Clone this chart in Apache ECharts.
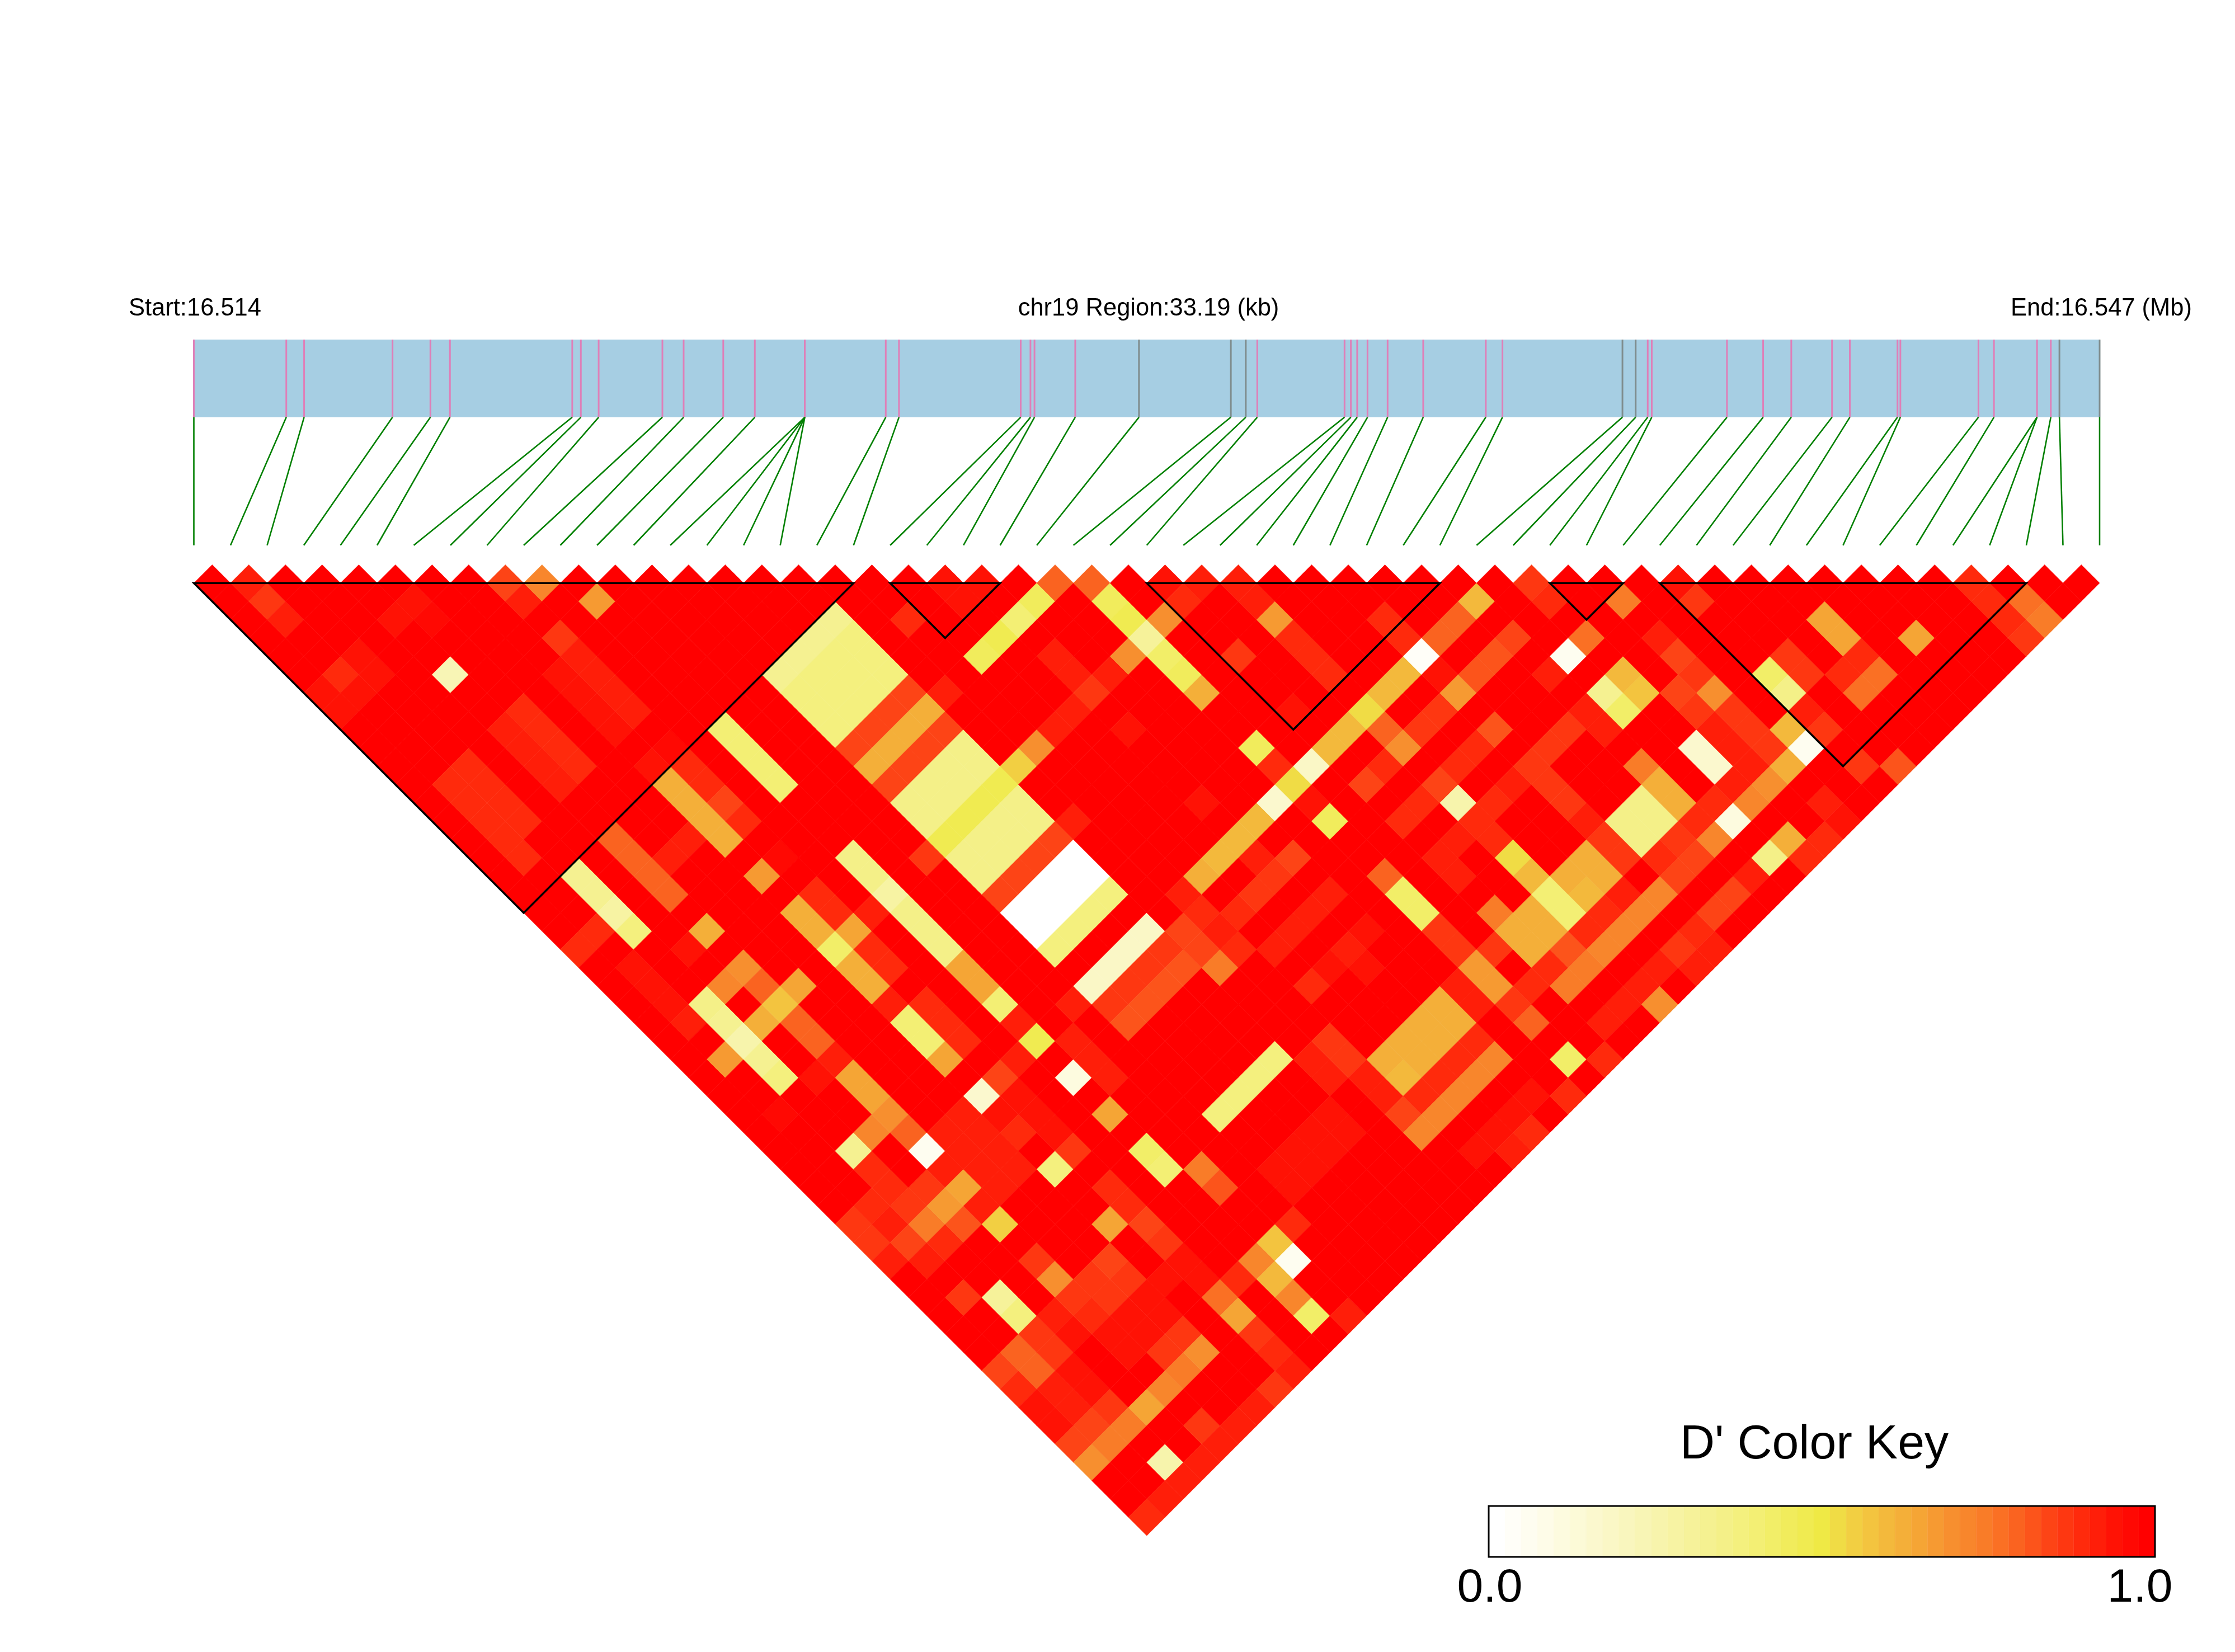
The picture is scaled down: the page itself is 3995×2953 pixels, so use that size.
<!DOCTYPE html>
<html><head><meta charset="utf-8">
<style>html,body{margin:0;padding:0;background:#fff}#c{width:3995px;height:2953px}</style>
<script src="https://cdn.jsdelivr.net/npm/echarts@6/dist/echarts.min.js"></script>
</head><body><div id="c"></div>
<script>
// SNP positions along the region, in kb from the start
const snpKb = [0,1.61,1.92,3.46,4.12,4.46,6.59,6.74,7.05,8.16,8.53,9.22,9.77,10.64,10.64,10.64,10.64,
 12.05,12.28,14.40,14.57,14.64,15.35,16.46,18.06,18.32,18.52,20.04,20.15,20.26,20.44,20.79,21.41,22.50,22.79,
 24.88,25.11,25.32,25.39,26.70,27.33,27.82,28.53,28.84,29.67,29.72,31.08,31.35,32.10,32.10,32.34,32.49,33.19];
const greyKb = [16.46,18.06,18.32,24.88,25.11,32.49,33.19];
const regionKb = 33.19;
// haplotype blocks, first and last SNP index
const blocks = [[0,18],[19,22],[26,34],[37,39],[40,50]];
// D': every pair is 1.0 except these [iFrom,iTo,jFrom,jTo,D']
const ldBlock1 = [[1,1,2,2,.92],[1,1,3,3,.88],[1,1,4,4,.93],[8,8,9,9,.85],[9,9,10,10,.72],[8,8,10,10,.92],[10,10,12,12,.68],
 [4,5,7,7,.95],[5,5,8,8,.97],[8,8,12,12,.88],[8,8,13,16,.92],[7,7,13,16,.95],[2,2,7,7,.95],[1,1,7,7,.9],[0,0,7,7,.95],[0,2,8,8,.96],
 [4,4,10,10,.22],[5,5,13,16,.9],[4,4,13,16,.93],[2,2,13,16,.9],[1,1,13,17,.9],[7,7,18,18,.96],[8,8,18,18,.97]];
const ldLeft = [[10,10,19,22,.4],[7,7,19,22,.62],[8,8,19,20,.9],[8,8,21,21,.85],[8,8,22,22,.9],[4,4,19,22,.8],[5,6,21,21,.92],
 [2,2,19,20,.33],[2,2,21,21,.28],[2,2,22,22,.37],[7,7,24,24,.68],[8,8,24,24,.97],[4,4,24,24,.63],[0,1,21,21,.9],[3,3,24,24,.95],[1,1,23,25,.95],[1,1,26,26,.93],
 [1,1,28,28,.67],[2,2,26,26,.35],[2,2,27,27,.33],[2,2,28,28,.26],[2,2,29,29,.32],[2,2,30,30,.38],[3,3,26,26,.72],[4,4,26,26,.71],[4,4,27,27,.8],[4,4,28,28,.58],[3,3,28,28,.62],[5,5,28,28,.66],
 [4,4,29,30,.8],[4,4,31,31,.93],[3,3,31,31,.95],[1,1,31,31,.97],[4,4,32,33,.66],[4,4,34,34,.7],[3,3,34,34,.72],[4,4,35,35,.79],[2,2,34,34,.32],[4,4,36,36,.05],[2,2,35,35,.9],
 [5,5,36,36,.93],[6,6,36,37,.92],[7,7,36,36,.16],[8,8,36,36,.84],[9,9,36,36,.93],[8,8,37,39,.94],[7,7,37,37,.95],[7,7,38,38,.9],[7,7,40,40,.38],[8,8,40,40,.88],
 [4,4,37,37,.93],[5,5,37,38,.93],[6,6,38,39,.93],[5,5,39,39,.93],[4,4,38,38,.65],[3,3,37,37,.88],[3,3,38,38,.68],[4,4,39,39,.92],[2,2,38,38,.75],[3,3,39,39,.82],[2,2,39,39,.9],[2,2,37,37,.87],
 [1,2,36,36,.9],[1,1,37,37,.92],[1,1,38,38,.85],[0,0,36,37,.88],[0,0,38,38,.92],[1,1,39,39,.92],[4,4,40,40,.55],[4,4,42,42,.88],[4,4,43,43,.7],[4,4,44,44,.88],[1,1,41,41,.87],[2,2,42,42,.3],[2,2,43,43,.38],
 [7,7,26,27,.63],[8,8,26,27,.9],[8,8,28,28,.65],[8,8,29,30,.9],[9,9,28,28,.92],[7,7,28,28,.42],[7,7,29,30,.62],[7,7,31,31,.92],[7,7,32,33,.4],[7,7,34,34,.65],[8,8,32,34,.9],
 [10,10,26,27,.36],[10,10,28,28,.28],[10,10,29,31,.36],[10,10,32,33,.66],[10,10,34,34,.4],[10,10,35,35,.92],[10,10,36,36,.47],[11,11,37,37,.92],[12,12,36,36,.92],[10,10,38,38,.09],[11,11,38,39,.92],
 [10,10,40,40,.65],[10,10,42,42,.42],[10,10,43,43,.4],[11,11,44,44,.75],[11,11,45,45,.83],[8,8,42,43,.9],[8,8,44,44,.85],[8,8,45,45,.88],[7,7,43,43,.65]];
const ldMiddle = [[20,21,21,22,.95],[18,18,21,21,.9],[23,23,24,24,.8],[24,24,25,25,.8],
 [22,22,24,24,.46],[21,21,24,24,.4],[20,20,24,24,.47],[19,19,24,24,.44],[24,24,26,26,.45],[24,24,27,27,.47],[24,24,28,28,.3],[24,24,29,29,.42],[24,24,30,30,.46],[24,24,31,31,.62],
 [25,25,28,28,.7],[26,26,28,28,.9],[27,27,28,28,.93],[26,26,27,27,.96],[23,23,28,28,.7],[22,22,28,28,.92],[21,21,28,28,.87],[19,20,28,28,.93],[18,18,28,28,.7],[17,17,28,28,.55],[21,21,26,27,.93],
 [26,26,31,31,.88],[28,28,29,30,.92],[28,28,31,31,.68],[28,28,32,34,.9],[26,26,34,34,.96],[31,31,34,35,.9],[31,31,36,36,.03],[30,30,36,36,.6],[29,29,36,36,.6],[28,28,36,36,.53],[27,27,36,36,.6],[26,26,36,36,.6],
 [25,25,36,36,.17],[24,24,36,36,.53],[23,23,36,36,.15],[20,22,36,36,.6],[19,19,36,36,.62],[18,18,36,36,.92],[24,24,34,34,.46],[24,24,35,35,.9],[24,24,38,38,.46],[24,24,37,37,.95],[21,21,34,34,.96],[21,21,30,30,.96],
 [26,26,38,38,.85],[27,27,38,38,.9],[28,28,38,38,.7],[28,28,37,37,.8],[26,26,40,40,.9],[27,27,40,40,.9],
 [13,16,19,19,.33],[13,16,20,22,.38],[13,16,23,23,.85],[13,16,24,24,.62],[13,16,25,25,.85],[17,17,24,24,.93],[13,16,26,27,.36],[13,16,28,28,.47],[13,16,29,30,.36],[13,16,31,31,.85],[17,17,31,31,.93],[12,12,28,28,.88],
 [13,16,32,33,0],[13,16,34,34,.37],[13,16,36,36,.17],[13,16,37,37,.87],[13,16,38,38,.83],[17,17,37,38,.86],[17,17,39,39,.75],[18,18,38,38,.92],[18,18,39,39,.9],[18,18,37,37,.9],[19,22,40,40,.92],[21,21,37,37,.92],[22,22,38,38,.85],[20,21,38,38,.87],[19,19,38,38,.9],
 [19,19,42,42,.9],[20,20,42,42,.95],[21,21,42,42,.93],[22,22,42,42,.95],[21,21,43,43,.96],[24,24,41,41,.8],[24,24,42,43,.42],[24,24,44,45,.88],[24,24,46,47,.67],[24,24,48,48,.87],[24,24,49,49,.8],[25,25,46,46,.88],
 [23,23,46,47,.93],[19,22,46,47,.62],[19,19,47,47,.6],[19,22,48,48,.9],[18,18,48,48,.85],[19,22,49,49,.72],[18,18,49,49,.73],[18,18,44,45,.87],[17,17,44,45,.93],[18,18,46,47,.93],[13,16,43,43,.38],
 [13,16,46,47,.95],[19,22,51,51,.94],[20,20,52,52,.93],[21,21,52,52,.9],[24,24,51,51,.42],[25,25,52,52,.9],[23,23,52,52,.9],[26,27,51,51,.93]];
const ldRight = [[36,36,37,37,.87],[48,48,49,49,.9],[34,34,36,36,.6],[36,36,38,38,.9],[38,38,40,40,.75],[40,40,41,41,.96],[40,40,42,42,.87],[33,33,36,36,.8],[32,32,36,36,.8],
 [34,34,38,38,.85],[33,33,38,38,.82],[32,32,38,38,.82],[31,31,38,38,.68],[31,31,37,37,.95],[30,30,38,38,.87],[29,29,38,38,.87],[31,31,40,40,.83],[30,30,40,40,.9],[29,29,40,40,.9],[28,28,40,40,.85],[28,28,41,41,.25],
 [29,29,42,42,.9],[28,28,42,43,.9],[27,27,42,42,.92],[26,26,42,43,.93],[28,28,44,44,.53],[28,28,45,45,.6],[26,26,45,45,.75],[28,28,46,47,.4],[26,27,46,47,.62],[29,30,46,47,.62],[29,29,47,47,.59],
 [32,33,46,47,.36],[34,34,46,47,.62],[34,34,45,45,.75],[36,36,46,47,.15],[35,35,49,49,.1],[34,34,49,49,.73],[35,35,51,51,.36],[36,36,51,51,.62],[38,38,51,51,.93],[38,38,52,52,.95],
 [36,36,49,49,.72],[37,37,49,49,.7],[38,38,49,49,.62],[39,39,49,49,.05],[39,39,48,48,.6],[38,38,42,42,.93],[38,38,43,43,.85],[38,38,44,44,.88],[38,38,45,45,.7],[37,37,44,44,.85],[37,37,45,45,.88],[38,38,46,48,.88],[37,37,46,48,.92],[36,36,48,48,.93],
 [36,36,42,43,.6],[36,36,43,43,.58],[35,35,42,42,.33],[35,35,43,43,.42],[33,33,42,42,.88],[34,34,42,43,.92],[32,32,42,42,.88],[31,31,42,44,.88],[31,31,45,45,.92],[30,30,42,42,.93],[31,31,46,47,.88],
 [33,33,48,48,.88],[32,32,48,48,.9],[34,35,48,48,.9],[33,33,49,49,.85],[32,32,49,49,.85],[28,31,49,49,.72],[30,30,48,48,.92],[28,29,48,48,.9],[27,27,48,48,.83],[27,27,49,49,.75],[26,26,48,48,.9],[25,25,48,48,.9],[26,26,49,49,.75],
 [32,33,51,51,.85],[31,31,51,51,.9],[30,30,51,51,.88],[31,31,52,52,.92],[30,30,52,52,.92],[28,29,51,51,.92],[28,28,52,52,.7],[34,34,51,51,.93],[36,37,52,52,.9],[24,24,51,51,.42],
 [43,43,46,47,.64],[45,45,49,49,.65],[41,41,46,47,.87],[40,40,46,46,.42],[40,40,47,47,.36],[42,42,48,48,.9],[43,43,48,48,.9],[43,43,49,49,.77],[42,42,49,49,.77],[40,40,48,48,.93],[40,40,49,49,.88],[40,40,51,51,.88],[41,41,52,52,.82],
 [48,48,50,50,.9],[49,49,51,51,.78],[49,49,52,52,.75],[48,48,51,51,.9],[48,48,52,52,.87],[36,36,40,40,.78],[35,35,40,40,.04],[34,34,40,40,.93]];
const ldLower = [[7,7,43,43,.65],[8,8,46,47,.95],[7,7,46,46,.95],[6,6,46,47,.95],[5,5,46,47,.95],[4,4,46,47,.95],[6,6,44,44,.85],[6,6,45,45,.87],[5,5,44,45,.87],[4,4,45,45,.9],[3,3,44,44,.92],[3,3,45,45,.95],
 [6,6,48,48,.87],[5,5,48,48,.87],[8,8,48,48,.78],[9,9,48,48,.9],[8,8,49,49,.66],[8,8,50,50,.87],[8,8,51,51,.9],[8,8,52,52,.93],[10,10,48,48,.72],[11,11,48,48,.58],[12,12,48,48,.9],[11,11,49,49,.05],[10,10,49,49,.6],[10,10,50,50,.72],[10,10,51,51,.42],[11,11,52,52,.93],
 [6,6,49,49,.7],[5,5,49,49,.75],[4,4,49,49,.72],[3,3,49,49,.64],[2,2,49,49,.75],[1,1,49,49,.75],[0,0,49,49,.7],[2,2,48,48,.87],[1,1,48,48,.85],[0,0,48,48,.85],
 [1,1,46,47,.93],[0,0,46,47,.95],[2,2,46,47,.95],[1,1,44,45,.8],[0,0,44,44,.85],[0,0,45,45,.9],[2,2,44,45,.87],[2,2,51,51,.25],[4,4,51,51,.88],[0,0,52,52,.9],[1,5,52,52,.93],[6,6,52,52,.93],[7,7,52,52,.88]];
// colour key: step number (of 40) and its colour
const keySteps = [0,2,4,6,8,10,12,14,16,18,20,21,22,24,26,28,30,32,34,36,38,40];
const keyColors = ['#FFFFFF','#FEFDF0','#FDFBDF','#FBF8CE','#F9F6BE','#F7F4AC','#F6F29A','#F4F088','#F3EF74','#F1EC5C','#EFE945','#F0DC45','#F2CF42','#F3B93C','#F5A535','#F78F2F','#F97C28','#FA6320','#FD4416','#FF2A0C','#FF1205','#FF0000'];
const keyLabels = ['0.0','1.0'];
const snpCount = snpKb.length;

function hex(c){return [1,3,5].map(k=>parseInt(c.substr(k,2),16));}
function colorOf(v){
  const s=Math.round(v*40);let a=0;
  while(a<keySteps.length-2&&keySteps[a+1]<s)a++;
  const t=(s-keySteps[a])/(keySteps[a+1]-keySteps[a]),p=hex(keyColors[a]),q=hex(keyColors[a+1]);
  return 'rgb('+p.map((x,k)=>Math.round(x+(q[k]-x)*t)).join(',')+')';
}
const ld={};
[].concat(ldBlock1,ldLeft,ldMiddle,ldRight,ldLower).forEach(p=>{
  for(let i=p[0];i<=p[1];i++)for(let j=p[2];j<=p[3];j++)ld[i+'_'+j]=p[4];
});
const cells=[];
for(let i=0;i<snpCount;i++)for(let j=i+1;j<snpCount;j++){
  const v=ld[i+'_'+j];cells.push([i,j,v===undefined?1:v]);
}
const toIdx=kb=>kb/regionKb*(snpCount-1);
const barTop=-6.145,barBottom=-4.025,linkBottom=-0.53,blockTop=0.5;
const uniqKb=[...new Set(snpKb)];

const hiddenX={show:false,type:'value',min:0,max:snpCount-1};
const option={
  animation:false,backgroundColor:'#fff',
  grid:[{left:346.5,width:3406.5,top:600.1,height:2145},{left:2661,width:1191,top:2692,height:91}],
  xAxis:[Object.assign({gridIndex:0},hiddenX),{show:false,type:'value',gridIndex:1,min:0,max:41}],
  yAxis:[{show:false,type:'value',gridIndex:0,inverse:true,min:-6.25,max:26.5},{show:false,type:'value',gridIndex:1,min:0,max:1}],
  graphic:[
    {type:'text',x:230,y:574,style:{text:'Start:16.514',font:'43.5px "Liberation Sans"',fill:'#000',textAlign:'left',textVerticalAlign:'bottom'}},
    {type:'text',x:2053,y:574,style:{text:'chr19 Region:33.19 (kb)',font:'43.5px "Liberation Sans"',fill:'#000',textAlign:'center',textVerticalAlign:'bottom'}},
    {type:'text',x:3918,y:574,style:{text:'End:16.547 (Mb)',font:'43.5px "Liberation Sans"',fill:'#000',textAlign:'right',textVerticalAlign:'bottom'}},
    {type:'text',x:3243,y:2626,style:{text:"D' Color Key",font:'86px "Liberation Sans"',fill:'#000',textAlign:'center',textVerticalAlign:'bottom'}},
    {type:'text',x:2663,y:2882,style:{text:keyLabels[0],font:'84px "Liberation Sans"',fill:'#000',textAlign:'center',textVerticalAlign:'bottom'}},
    {type:'text',x:3825,y:2882,style:{text:keyLabels[1],font:'84px "Liberation Sans"',fill:'#000',textAlign:'center',textVerticalAlign:'bottom'}}
  ],
  series:[
    {type:'custom',xAxisIndex:0,yAxisIndex:0,silent:true,clip:false,progressive:0,data:cells,
     renderItem:(p,api)=>{
       const i=api.value(0),j=api.value(1),c=colorOf(api.value(2)),u=(i+j)/2,v=(j-i)/2;
       const pts=[[u,v-.5],[u+.5,v],[u,v+.5],[u-.5,v]].map(q=>api.coord(q));
       return {type:'polygon',shape:{points:pts},style:{fill:c,stroke:c,lineWidth:.6}};
     }},
    {type:'custom',xAxisIndex:0,yAxisIndex:0,silent:true,clip:false,data:[[barTop,barBottom]],
     renderItem:(p,api)=>{
       const a=api.coord([0,api.value(0)]),b=api.coord([snpCount-1,api.value(1)]);
       return {type:'rect',shape:{x:a[0],y:a[1],width:b[0]-a[0],height:b[1]-a[1]},style:{fill:'#A6CEE3'}};
     }},
    {type:'custom',xAxisIndex:0,yAxisIndex:0,silent:true,clip:false,data:uniqKb.map(k=>[k]),
     renderItem:(p,api)=>{
       const k=api.value(0),a=api.coord([toIdx(k),barTop]),b=api.coord([toIdx(k),barBottom]);
       return {type:'line',shape:{x1:a[0],y1:a[1],x2:b[0],y2:b[1]},style:{stroke:greyKb.indexOf(k)>=0?'#7F8C8D':'#DF7FB8',lineWidth:3}};
     }},
    {type:'custom',xAxisIndex:0,yAxisIndex:0,silent:true,clip:false,data:snpKb.map((k,i)=>[k,i]),
     renderItem:(p,api)=>{
       const a=api.coord([toIdx(api.value(0)),barBottom]),b=api.coord([api.value(1),linkBottom]);
       return {type:'line',shape:{x1:a[0],y1:a[1],x2:b[0],y2:b[1]},style:{stroke:'#008000',lineWidth:2.6}};
     }},
    {type:'custom',xAxisIndex:0,yAxisIndex:0,silent:true,clip:false,data:blocks,
     renderItem:(p,api)=>{
       const a=api.value(0),b=api.value(1);
       const pts=[[a,blockTop],[b,blockTop],[(a+b)/2,blockTop+(b-a)/2]].map(q=>api.coord(q));
       return {type:'polygon',shape:{points:pts},style:{fill:'none',stroke:'#000',lineWidth:3.5}};
     }},
    {type:'custom',xAxisIndex:1,yAxisIndex:1,silent:true,clip:false,data:Array.from({length:41},(_,s)=>[s]),
     renderItem:(p,api)=>{
       const s=api.value(0),a=api.coord([s,1]),b=api.coord([s+1,0]);
       return {type:'rect',shape:{x:a[0],y:a[1],width:b[0]-a[0],height:b[1]-a[1]},style:{fill:colorOf(s/40),stroke:colorOf(s/40),lineWidth:.4}};
     }},
    {type:'custom',xAxisIndex:1,yAxisIndex:1,silent:true,clip:false,data:[[0,41]],
     renderItem:(p,api)=>{
       const a=api.coord([api.value(0),1]),b=api.coord([api.value(1),0]);
       return {type:'rect',shape:{x:a[0],y:a[1],width:b[0]-a[0],height:b[1]-a[1]},style:{fill:'none',stroke:'#000',lineWidth:3}};
     }}
  ]
};
echarts.init(document.getElementById('c'),null,{renderer:'canvas'}).setOption(option);
</script></body></html>
